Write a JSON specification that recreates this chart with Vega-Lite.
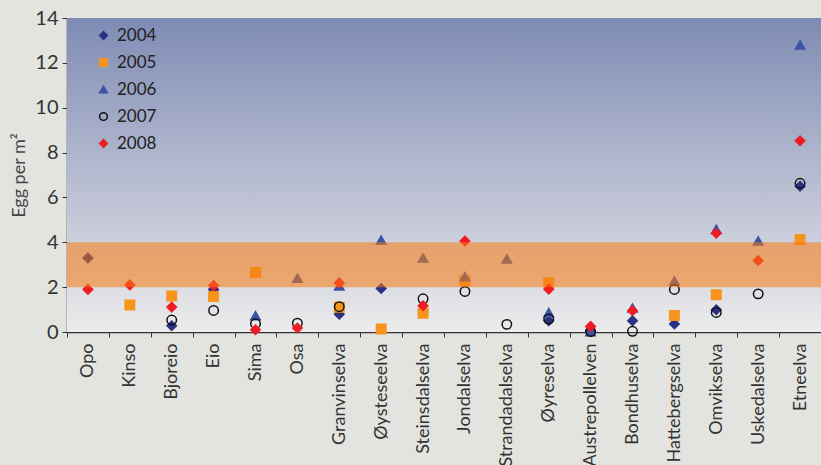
{
  "$schema": "https://vega.github.io/schema/vega-lite/v6.json",
  "width": 754,
  "height": 314,
  "autosize": "none",
  "padding": {"left": 67, "top": 18, "right": 0, "bottom": 133},
  "background": "#e3e4df",
  "config": {
    "view": {"stroke": null},
    "font": "Lato",
    "axis": {"labelFont": "Lato", "titleFont": "Lato", "labelColor": "#333333", "titleColor": "#444444", "domainColor": "#333333", "tickColor": "#333333", "grid": false},
    "axisY": {"titleFontSize": 18, "titleFontWeight": "normal", "titlePadding": 6, "labelFontSize": 20, "tickSize": 5, "labelPadding": 4, "domainWidth": 1.5}
  },
  "layer": [
    {
      "data": {"values": [{"lo": 0, "hi": 14}]},
      "mark": {
        "type": "rect",
        "fill": {
          "gradient": "linear", "x1": 0, "y1": 0, "x2": 0, "y2": 1,
          "stops": [
            {"offset": 0, "color": "#7e8bb4"},
            {"offset": 0.7, "color": "#cbcedb"},
            {"offset": 1, "color": "#ececec"}
          ]
        }
      },
      "encoding": {
        "y": {"field": "lo", "type": "quantitative", "scale": {"domain": [0, 14], "nice": false}, "axis": {"title": "Egg per m²", "values": [0, 2, 4, 6, 8, 10, 12, 14]}},
        "y2": {"field": "hi"}
      }
    },
    {
      "data": {"values": [
        {"river": "Opo", "year": "2004", "egg": 3.3},
        {"river": "Opo", "year": "2008", "egg": 1.9},
        {"river": "Kinso", "year": "2005", "egg": 1.2},
        {"river": "Kinso", "year": "2008", "egg": 2.1},
        {"river": "Bjoreio", "year": "2004", "egg": 0.28},
        {"river": "Bjoreio", "year": "2005", "egg": 1.6},
        {"river": "Bjoreio", "year": "2007", "egg": 0.53},
        {"river": "Bjoreio", "year": "2008", "egg": 1.11},
        {"river": "Eio", "year": "2004", "egg": 1.9},
        {"river": "Eio", "year": "2005", "egg": 1.58},
        {"river": "Eio", "year": "2007", "egg": 0.96},
        {"river": "Eio", "year": "2008", "egg": 2.07},
        {"river": "Sima", "year": "2005", "egg": 2.65},
        {"river": "Sima", "year": "2006", "egg": 0.73},
        {"river": "Sima", "year": "2007", "egg": 0.37},
        {"river": "Sima", "year": "2008", "egg": 0.1},
        {"river": "Osa", "year": "2006", "egg": 2.4},
        {"river": "Osa", "year": "2007", "egg": 0.39},
        {"river": "Osa", "year": "2008", "egg": 0.18},
        {"river": "Granvinselva", "year": "2004", "egg": 0.79},
        {"river": "Granvinselva", "year": "2005", "egg": 1.1},
        {"river": "Granvinselva", "year": "2006", "egg": 2.06},
        {"river": "Granvinselva", "year": "2007", "egg": 1.13},
        {"river": "Granvinselva", "year": "2008", "egg": 2.19},
        {"river": "Øysteseelva", "year": "2004", "egg": 1.94},
        {"river": "Øysteseelva", "year": "2005", "egg": 0.13},
        {"river": "Øysteseelva", "year": "2006", "egg": 4.1},
        {"river": "Steinsdalselva", "year": "2004", "egg": 0.98},
        {"river": "Steinsdalselva", "year": "2005", "egg": 0.84},
        {"river": "Steinsdalselva", "year": "2006", "egg": 3.3},
        {"river": "Steinsdalselva", "year": "2007", "egg": 1.48},
        {"river": "Steinsdalselva", "year": "2008", "egg": 1.17},
        {"river": "Jondalselva", "year": "2005", "egg": 2.28},
        {"river": "Jondalselva", "year": "2006", "egg": 2.47},
        {"river": "Jondalselva", "year": "2007", "egg": 1.81},
        {"river": "Jondalselva", "year": "2008", "egg": 4.06},
        {"river": "Strandadalselva", "year": "2006", "egg": 3.26},
        {"river": "Strandadalselva", "year": "2007", "egg": 0.34},
        {"river": "Øyreselva", "year": "2004", "egg": 0.5},
        {"river": "Øyreselva", "year": "2005", "egg": 2.18},
        {"river": "Øyreselva", "year": "2006", "egg": 0.86},
        {"river": "Øyreselva", "year": "2007", "egg": 0.58},
        {"river": "Øyreselva", "year": "2008", "egg": 1.91},
        {"river": "Austrepollelven", "year": "2004", "egg": 0.05},
        {"river": "Austrepollelven", "year": "2006", "egg": 0.02},
        {"river": "Austrepollelven", "year": "2007", "egg": 0.02},
        {"river": "Austrepollelven", "year": "2008", "egg": 0.25},
        {"river": "Bondhuselva", "year": "2004", "egg": 0.5},
        {"river": "Bondhuselva", "year": "2006", "egg": 1.07},
        {"river": "Bondhuselva", "year": "2007", "egg": 0.03},
        {"river": "Bondhuselva", "year": "2008", "egg": 0.95},
        {"river": "Hattebergselva", "year": "2004", "egg": 0.36},
        {"river": "Hattebergselva", "year": "2005", "egg": 0.74},
        {"river": "Hattebergselva", "year": "2006", "egg": 2.28},
        {"river": "Hattebergselva", "year": "2007", "egg": 1.9},
        {"river": "Omvikselva", "year": "2004", "egg": 0.99},
        {"river": "Omvikselva", "year": "2005", "egg": 1.66},
        {"river": "Omvikselva", "year": "2006", "egg": 4.58},
        {"river": "Omvikselva", "year": "2007", "egg": 0.87},
        {"river": "Omvikselva", "year": "2008", "egg": 4.4},
        {"river": "Uskedalselva", "year": "2006", "egg": 4.06},
        {"river": "Uskedalselva", "year": "2007", "egg": 1.7},
        {"river": "Uskedalselva", "year": "2008", "egg": 3.19},
        {"river": "Etneelva", "year": "2004", "egg": 6.5},
        {"river": "Etneelva", "year": "2005", "egg": 4.12},
        {"river": "Etneelva", "year": "2006", "egg": 12.8},
        {"river": "Etneelva", "year": "2007", "egg": 6.63},
        {"river": "Etneelva", "year": "2008", "egg": 8.53}
      ]},
      "mark": {"type": "point", "filled": false, "size": 90, "strokeWidth": 1.5, "opacity": 1},
      "encoding": {
        "x": {
          "field": "river", "type": "nominal", "sort": null,
          "scale": {"paddingInner": 0, "paddingOuter": 0},
          "axis": {"title": null, "labelAngle": -90, "labelAlign": "right", "labelBaseline": "middle", "labelFontSize": 18, "labelPadding": 6, "tickBand": "extent", "tickSize": 5, "domainWidth": 1.5}
        },
        "y": {
          "field": "egg", "type": "quantitative",
          "scale": {"domain": [0, 14], "nice": false},
          "axis": {"title": "Egg per m²", "values": [0, 2, 4, 6, 8, 10, 12, 14]}
        },
        "shape": {
          "field": "year", "type": "nominal",
          "scale": {"domain": ["2004", "2005", "2006", "2007", "2008"], "range": ["diamond", "square", "triangle-up", "circle", "diamond"]},
          "legend": {"title": null, "orient": "none", "legendX": 28, "legendY": 9, "labelFontSize": 17, "labelColor": "#222222", "symbolSize": 60, "rowPadding": 9, "labelOffset": 5, "symbolStrokeWidth": 1.5}
        },
        "fill": {
          "field": "year", "type": "nominal",
          "scale": {"domain": ["2004", "2005", "2006", "2007", "2008"], "range": ["#2b3284", "#f7941d", "#3a55a4", "transparent", "#ee1c25"]},
          "legend": {"title": null, "orient": "none", "legendX": 28, "legendY": 9, "labelFontSize": 17, "labelColor": "#222222", "symbolSize": 60, "rowPadding": 9, "labelOffset": 5, "symbolStrokeWidth": 1.5}
        },
        "stroke": {
          "field": "year", "type": "nominal",
          "scale": {"domain": ["2004", "2005", "2006", "2007", "2008"], "range": ["#2b3284", "#f7941d", "#3a55a4", "#111111", "#ee1c25"]},
          "legend": {"title": null, "orient": "none", "legendX": 28, "legendY": 9, "labelFontSize": 17, "labelColor": "#222222", "symbolSize": 60, "rowPadding": 9, "labelOffset": 5, "symbolStrokeWidth": 1.5}
        }
      }
    },
    {
      "data": {"values": [{"lo": 2, "hi": 4}]},
      "mark": {"type": "rect", "color": "#f97a10", "opacity": 0.55},
      "encoding": {
        "y": {"field": "lo", "type": "quantitative"},
        "y2": {"field": "hi"}
      }
    }
  ]
}
